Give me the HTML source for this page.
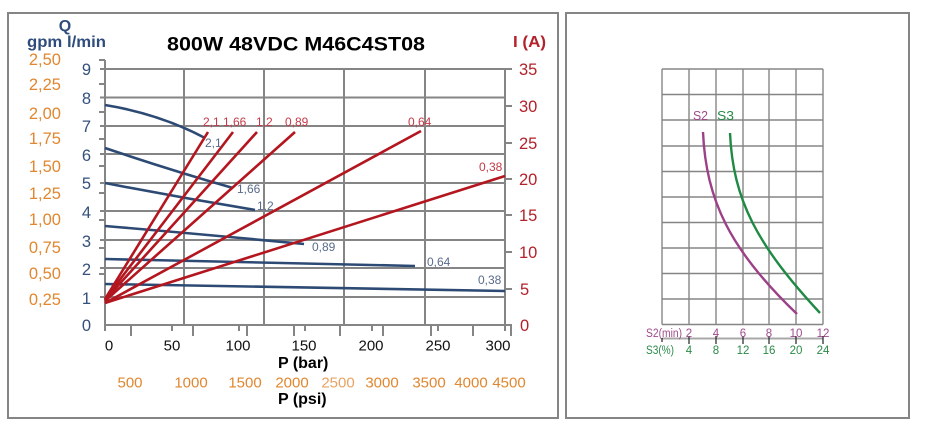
<!DOCTYPE html>
<html><head><meta charset="utf-8"><style>
html,body{margin:0;padding:0;background:#fff;}
svg{display:block;}
text{font-family:"Liberation Sans",Arial,sans-serif;}
</style></head><body>
<svg width="927" height="442" viewBox="0 0 927 442" xmlns="http://www.w3.org/2000/svg">
<rect x="0" y="0" width="927" height="442" fill="#fff"/>
<!-- panels -->
<rect x="8" y="13" width="550" height="405" fill="none" stroke="#858585" stroke-width="2"/>
<rect x="566" y="13" width="343" height="405" fill="none" stroke="#858585" stroke-width="2"/>

<!-- LEFT CHART -->
<g stroke="#858585" stroke-width="2" fill="none">
  <line x1="100" y1="69" x2="505" y2="69"/>
  <line x1="100" y1="97.5" x2="505" y2="97.5"/>
  <line x1="100" y1="126" x2="505" y2="126"/>
  <line x1="100" y1="154" x2="505" y2="154"/>
  <line x1="100" y1="183" x2="505" y2="183"/>
  <line x1="100" y1="211" x2="505" y2="211"/>
  <line x1="100" y1="240" x2="505" y2="240"/>
  <line x1="100" y1="268" x2="505" y2="268"/>
  <line x1="100" y1="297" x2="505" y2="297"/>
  <line x1="184" y1="69" x2="184" y2="325"/>
  <line x1="264" y1="69" x2="264" y2="325"/>
  <line x1="344" y1="69" x2="344" y2="325"/>
  <line x1="425" y1="69" x2="425" y2="325"/>
  <line x1="105" y1="60" x2="105" y2="331"/>
  <line x1="505" y1="69" x2="505" y2="331"/>
  <line x1="104" y1="325" x2="511" y2="325"/>
  <line x1="99" y1="60" x2="105" y2="60"/>
  <line x1="99" y1="84" x2="105" y2="84"/>
  <line x1="99" y1="112" x2="105" y2="112"/>
  <line x1="99" y1="139" x2="105" y2="139"/>
  <line x1="99" y1="166" x2="105" y2="166"/>
  <line x1="99" y1="193" x2="105" y2="193"/>
  <line x1="99" y1="220" x2="105" y2="220"/>
  <line x1="99" y1="248" x2="105" y2="248"/>
  <line x1="99" y1="274" x2="105" y2="274"/>
  <line x1="505" y1="69" x2="512" y2="69"/>
  <line x1="505" y1="106" x2="512" y2="106"/>
  <line x1="505" y1="143" x2="512" y2="143"/>
  <line x1="505" y1="179" x2="512" y2="179"/>
  <line x1="505" y1="215" x2="512" y2="215"/>
  <line x1="505" y1="252" x2="512" y2="252"/>
  <line x1="505" y1="289" x2="512" y2="289"/>
  <line x1="505" y1="325" x2="512" y2="325"/>
  <line x1="105" y1="325" x2="105" y2="331"/>
  <line x1="172" y1="325" x2="172" y2="331"/>
  <line x1="239" y1="325" x2="239" y2="331"/>
  <line x1="305" y1="325" x2="305" y2="331"/>
  <line x1="372" y1="325" x2="372" y2="331"/>
  <line x1="438" y1="325" x2="438" y2="331"/>
  <line x1="131" y1="325" x2="131" y2="336"/>
  <line x1="193" y1="325" x2="193" y2="336"/>
  <line x1="247" y1="325" x2="247" y2="336"/>
  <line x1="294" y1="325" x2="294" y2="336"/>
  <line x1="340" y1="325" x2="340" y2="336"/>
  <line x1="383" y1="325" x2="383" y2="336"/>
  <line x1="431" y1="325" x2="431" y2="336"/>
  <line x1="473" y1="325" x2="473" y2="336"/>
  <line x1="511" y1="325" x2="511" y2="336"/>
</g>

<!-- blue Q curves -->
<g stroke="#2d4a74" stroke-width="2.6" fill="none">
  <path d="M105,105 Q160,114 205,138"/>
  <path d="M105,148 Q170,170 233,188"/>
  <path d="M105,183 Q180,197.5 255,210"/>
  <path d="M105,226 Q200,234 304,244"/>
  <path d="M105,259 Q260,262 415,266"/>
  <path d="M105,284 Q300,287 505,291"/>
</g>

<!-- red I lines -->
<g stroke="#b3161f" stroke-width="2.6" fill="none">
  <line x1="105" y1="299" x2="208" y2="132"/>
  <line x1="105" y1="299" x2="233" y2="132"/>
  <line x1="105" y1="300" x2="257" y2="132"/>
  <line x1="105" y1="301" x2="295" y2="132"/>
  <line x1="105" y1="303" x2="421" y2="131"/>
  <line x1="105" y1="303" x2="505" y2="176"/>
</g>

<g fill="#c43a48" font-size="12">
  <text x="203" y="126">2,1</text>
  <text x="223" y="126">1,66</text>
  <text x="256" y="126">1,2</text>
  <text x="285" y="126">0,89</text>
  <text x="408" y="126">0,64</text>
  <text x="479" y="171">0,38</text>
</g>
<g fill="#5a6b8c" font-size="12">
  <text x="205" y="147">2,1</text>
  <text x="237" y="193">1,66</text>
  <text x="257" y="210">1,2</text>
  <text x="312" y="251">0,89</text>
  <text x="427" y="266">0,64</text>
  <text x="478" y="284">0,38</text>
</g>

<text x="167" y="50.5" font-size="19" font-weight="bold" fill="#000" textLength="258" lengthAdjust="spacingAndGlyphs">800W 48VDC M46C4ST08</text>
<text x="65" y="31" font-size="16" font-weight="bold" fill="#2f4d7c" text-anchor="middle">Q</text>
<text x="27" y="47" font-size="16" font-weight="bold" fill="#2f4d7c" textLength="79" lengthAdjust="spacingAndGlyphs">gpm l/min</text>
<text x="513" y="47" font-size="16" font-weight="bold" fill="#b3222b" textLength="33" lengthAdjust="spacingAndGlyphs">I (A)</text>

<g fill="#e0872f" font-size="16.5" text-anchor="end">
  <text x="61" y="65">2,50</text>
  <text x="61" y="90">2,25</text>
  <text x="61" y="119">2,00</text>
  <text x="61" y="144">1,75</text>
  <text x="61" y="172">1,50</text>
  <text x="61" y="199">1,25</text>
  <text x="61" y="225">1,00</text>
  <text x="61" y="253">0,75</text>
  <text x="61" y="279">0,50</text>
  <text x="61" y="305">0,25</text>
</g>
<g fill="#34507c" font-size="16.5" text-anchor="end">
  <text x="91" y="75">9</text>
  <text x="91" y="104">8</text>
  <text x="91" y="132">7</text>
  <text x="91" y="161">6</text>
  <text x="91" y="189">5</text>
  <text x="91" y="218">4</text>
  <text x="91" y="247">3</text>
  <text x="91" y="275">2</text>
  <text x="91" y="304">1</text>
  <text x="91" y="331">0</text>
</g>
<g fill="#b3222b" font-size="16.5">
  <text x="519" y="75">35</text>
  <text x="519" y="112">30</text>
  <text x="519" y="149">25</text>
  <text x="519" y="185">20</text>
  <text x="519" y="221">15</text>
  <text x="519" y="258">10</text>
  <text x="520" y="295">5</text>
  <text x="520" y="331">0</text>
</g>
<g fill="#111" font-size="15" text-anchor="middle">
  <text x="109" y="350.5">0</text>
  <text x="172" y="350.5">50</text>
  <text x="238" y="350.5">100</text>
  <text x="304" y="350.5">150</text>
  <text x="371" y="350.5">200</text>
  <text x="438" y="350.5">250</text>
  <text x="498" y="350.5">300</text>
</g>
<text x="278" y="368" font-size="16" font-weight="bold" fill="#000">P (bar)</text>
<g fill="#e0872f" font-size="15" text-anchor="middle">
  <text x="130" y="387.5">500</text>
  <text x="191" y="387.5">1000</text>
  <text x="245" y="387.5">1500</text>
  <text x="292" y="387.5">2000</text>
  <text x="338" y="387.5" fill="#e9a263">2500</text>
  <text x="382" y="387.5">3000</text>
  <text x="429" y="387.5">3500</text>
  <text x="471" y="387.5">4000</text>
  <text x="509" y="387.5">4500</text>
</g>
<text x="278" y="404" font-size="16" font-weight="bold" fill="#000">P (psi)</text>

<!-- RIGHT CHART -->
<g stroke="#858585" stroke-width="1.4" fill="none">
  <line x1="662" y1="69" x2="823" y2="69"/>
  <line x1="662" y1="94.5" x2="823" y2="94.5"/>
  <line x1="662" y1="120" x2="823" y2="120"/>
  <line x1="662" y1="146" x2="823" y2="146"/>
  <line x1="662" y1="171.5" x2="823" y2="171.5"/>
  <line x1="662" y1="197" x2="823" y2="197"/>
  <line x1="662" y1="222.5" x2="823" y2="222.5"/>
  <line x1="662" y1="248" x2="823" y2="248"/>
  <line x1="662" y1="273.5" x2="823" y2="273.5"/>
  <line x1="662" y1="299" x2="823" y2="299"/>
  <line x1="662" y1="324.5" x2="823" y2="324.5"/>
  <line x1="662" y1="69" x2="662" y2="324.5"/>
  <line x1="689" y1="69" x2="689" y2="324.5"/>
  <line x1="716" y1="69" x2="716" y2="324.5"/>
  <line x1="743" y1="69" x2="743" y2="324.5"/>
  <line x1="769" y1="69" x2="769" y2="324.5"/>
  <line x1="796" y1="69" x2="796" y2="324.5"/>
  <line x1="823" y1="69" x2="823" y2="324.5"/>
</g>
<line x1="662" y1="338.5" x2="823" y2="338.5" stroke="#a8a8a8" stroke-width="2"/>
<g stroke="#222" stroke-width="1.2">
  <line x1="662" y1="338" x2="662" y2="342"/>
  <line x1="689" y1="336" x2="689" y2="344"/>
  <line x1="716" y1="336" x2="716" y2="344"/>
  <line x1="743" y1="336" x2="743" y2="344"/>
  <line x1="769" y1="336" x2="769" y2="344"/>
  <line x1="796" y1="336" x2="796" y2="344"/>
  <line x1="823" y1="336" x2="823" y2="344"/>
</g>
<path d="M703,132 C706,200 730,250 797,314" fill="none" stroke="#9c4088" stroke-width="2.4"/>
<path d="M730,133 C733,200 757,245 820,313" fill="none" stroke="#1f8a44" stroke-width="2.4"/>
<text x="693" y="120" font-size="13" fill="#a04a8c" textLength="15" lengthAdjust="spacingAndGlyphs">S2</text>
<text x="717" y="120" font-size="13" fill="#2a8a48" textLength="17" lengthAdjust="spacingAndGlyphs">S3</text>
<g fill="#a04a8c" font-size="11.5" text-anchor="middle">
  <text x="664" y="337" textLength="36" lengthAdjust="spacingAndGlyphs">S2(min)</text>
  <text x="689" y="337">2</text>
  <text x="716" y="337">4</text>
  <text x="743" y="337">6</text>
  <text x="769" y="337">8</text>
  <text x="796" y="337">10</text>
  <text x="823" y="337">12</text>
</g>
<g fill="#2a8a48" font-size="11.5" text-anchor="middle">
  <text x="660" y="354" textLength="28" lengthAdjust="spacingAndGlyphs">S3(%)</text>
  <text x="689" y="354">4</text>
  <text x="716" y="354">8</text>
  <text x="743" y="354">12</text>
  <text x="769" y="354">16</text>
  <text x="796" y="354">20</text>
  <text x="823" y="354">24</text>
</g>
</svg>
</body></html>
